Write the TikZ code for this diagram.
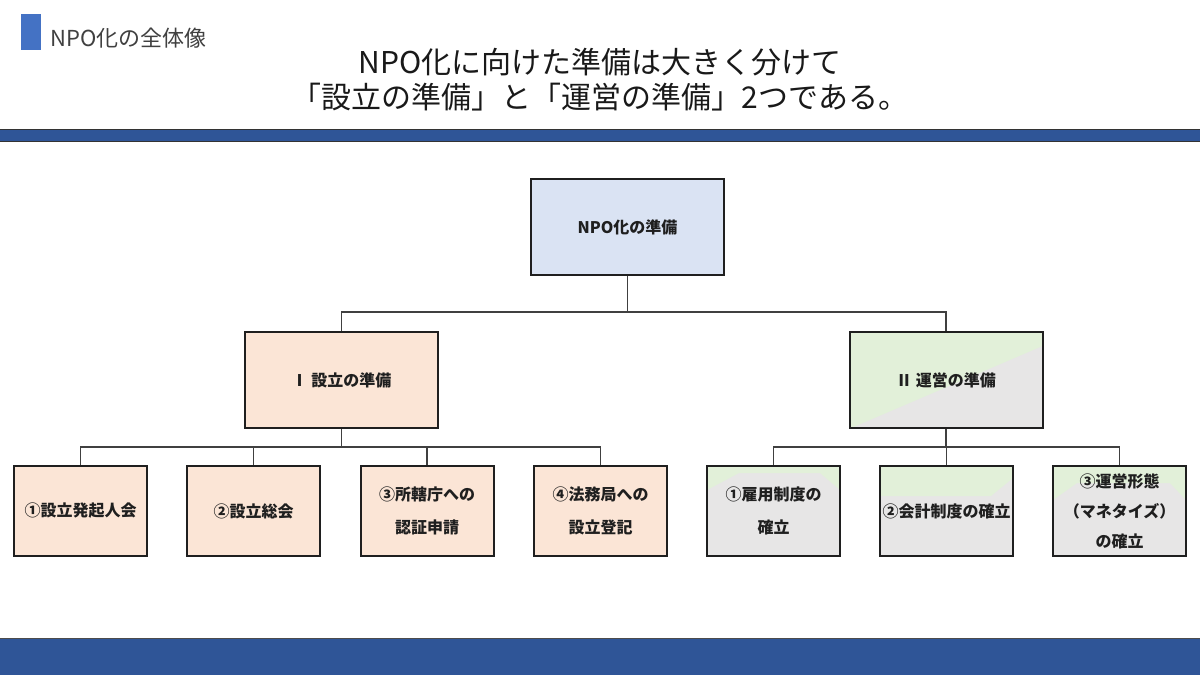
\documentclass[tikz,border=0pt]{standalone}
\usepackage{fontspec}
\setmainfont{Noto Sans CJK JP}
\usepackage{tikz}
\usetikzlibrary{calc}
\definecolor{barblue}{HTML}{2F5597}
\definecolor{iconblue}{HTML}{4472C4}
\definecolor{topfill}{HTML}{DAE3F3}
\definecolor{setupfill}{HTML}{FBE5D6}
\definecolor{opsgreen}{HTML}{E2F0D9}
\definecolor{opsgray}{HTML}{E7E6E6}
\definecolor{inkc}{HTML}{1F1F1F}
\definecolor{linkc}{HTML}{404040}
\definecolor{headc}{HTML}{404040}

\tikzset{
  box/.style={draw=inkc, line width=2pt, text=inkc, align=center, inner sep=0pt,
    font=\bfseries\fontsize{16}{33}\selectfont},
  bigbox/.style={box, minimum width=193pt, minimum height=96pt},
  smallbox/.style={box, minimum width=133pt, minimum height=90pt},
  opsfill/.style n args={6}{fill=opsgray, path picture={
    \fill[opsgreen] (path picture bounding box.north west)
      -- (path picture bounding box.north east)
      -- ($(path picture bounding box.north east)+(0,#6)$)
      -- ($(path picture bounding box.north east)+(-#4,#5)$)
      -- ($(path picture bounding box.north west)+(#2,#3)$)
      -- ($(path picture bounding box.north west)+(0,#1)$) -- cycle;}},
  link/.style={draw=linkc, line width=1.5pt},
}

\begin{document}
\begin{tikzpicture}[x=1pt, y=-1pt]
  \useasboundingbox (0,0) rectangle (1200,675);
  % header and title
  \fill[iconblue] (21,14) rectangle (41,50);
  \node[anchor=west, text=headc, font=\fontsize{22}{26}\selectfont] (head) at (47,38) {NPO化の全体像};
  \node[text=black!90, align=center, font=\fontsize{30}{35}\selectfont] (title) at (600,80)
    {NPO化に向けた準備は大きく分けて\\「設立の準備」と「運営の準備」2つである。};
  \filldraw[fill=barblue, draw=black!80, line width=0.8pt] (-1,129) rectangle (1201,141);
  \filldraw[fill=barblue, draw=black!70, line width=0.8pt] (-1,638) rectangle (1201,680);

  % tree
  \node[bigbox, fill=topfill] (npo) at (627.5,227) {NPO化の準備};
  \node[bigbox, fill=setupfill] (setup) at (341.5,380) {Ⅰ 設立の準備};
  \node[bigbox, opsfill={95}{4}{95}{0}{14}{14}] (ops) at (946,380) {Ⅱ 運営の準備};

  \node[smallbox, fill=setupfill] (s1) at (80.5,511) {①設立発起人会};
  \node[smallbox, fill=setupfill] (s2) at (253.5,511) {②設立総会};
  \node[smallbox, fill=setupfill] (s3) at (427,511) {③所轄庁への\\認証申請};
  \node[smallbox, fill=setupfill] (s4) at (600.5,511) {④法務局への\\設立登記};

  \node[smallbox, opsfill={24}{32}{7}{20}{7}{24}] (o1) at (773.5,511) {①雇用制度の\\確立};
  \node[smallbox, opsfill={30}{0}{30}{22}{30}{12}] (o2) at (946.5,511) {②会計制度の確立};
  \node[smallbox, opsfill={34}{24}{17}{16}{17}{34},
    font=\bfseries\fontsize{16}{30}\selectfont] (o3) at (1119.5,511) {③運営形態\\（マネタイズ）\\の確立};

  \draw[link] (npo.south) -- ++(0,36) -| (setup.north);
  \draw[link] (npo.south) -- ++(0,36) -| (ops.north);
  \foreach \n in {s1,s2,s3,s4}
    \draw[link] (setup.south) -- ++(0,18) -| (\n.north);
  \foreach \n in {o1,o2,o3}
    \draw[link] (ops.south) -- ++(0,18) -| (\n.north);
\end{tikzpicture}
\end{document}
